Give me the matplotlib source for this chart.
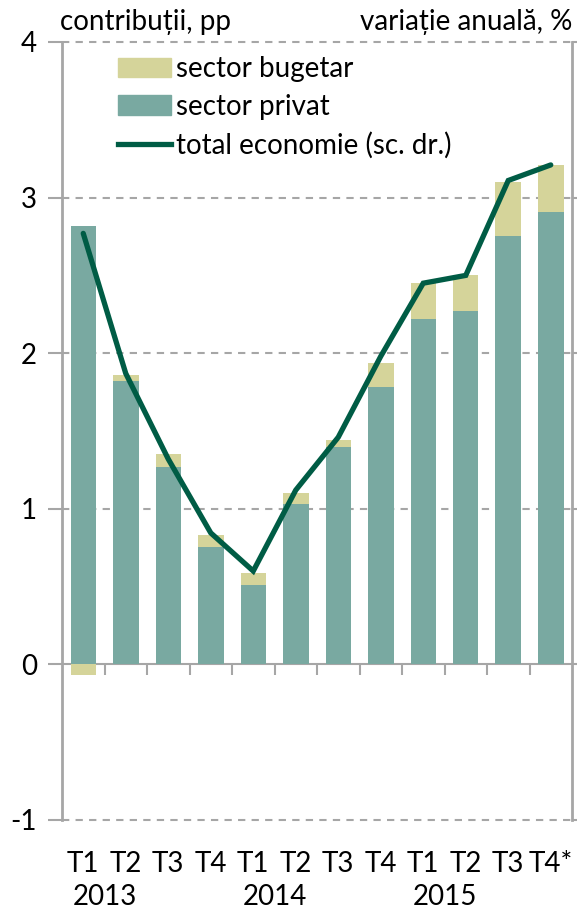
import matplotlib
matplotlib.use("Agg")
import matplotlib.pyplot as plt
from matplotlib.patches import Patch
from matplotlib.lines import Line2D
import matplotlib.transforms as mtransforms

plt.rcParams['font.family'] = ['Lato', 'DejaVu Sans']

quarters = ["T1", "T2", "T3", "T4", "T1", "T2", "T3", "T4", "T1", "T2", "T3", "T4*"]
years = ["2013", "2014", "2015"]
privat = [2.82, 1.82, 1.27, 0.755, 0.51, 1.03, 1.40, 1.78, 2.22, 2.27, 2.75, 2.91]
bugetar = [-0.07, 0.04, 0.08, 0.075, 0.08, 0.07, 0.04, 0.16, 0.23, 0.23, 0.35, 0.30]
total = [2.77, 1.87, 1.32, 0.845, 0.60, 1.12, 1.46, 1.98, 2.45, 2.50, 3.11, 3.21]

C_PRIV = "#79A9A1"
C_BUG = "#D5D49A"
C_LINE = "#005C45"
C_GRID = "#A6A6A6"
FS = 20

W, H = 577, 909
fig = plt.figure(figsize=(W / 100, H / 100), dpi=100)
ax = fig.add_axes([62 / W, (H - 820) / H, (572 - 62) / W, (820 - 42) / H])

x = list(range(len(quarters)))
bottoms = [p if b >= 0 else 0 for p, b in zip(privat, bugetar)]
ax.bar(x, privat, width=0.6, color=C_PRIV, zorder=2)
ax.bar(x, bugetar, width=0.6, bottom=bottoms, color=C_BUG, zorder=2)
ax.plot(x, total, color=C_LINE, lw=3.8, solid_capstyle='round', solid_joinstyle='miter', zorder=3)

ax.set_xlim(-0.5, len(quarters) - 0.5)
ax.set_ylim(-1, 4)
for yv in [-1, 1, 2, 3, 4]:
    ax.axhline(yv, color=C_GRID, lw=1.5, ls=(0, (3.5, 3)), zorder=1, clip_on=False)
ax.axhline(0, color=C_GRID, lw=1.5, zorder=1)
ax.vlines([i + 0.5 for i in x[:-1]], -0.065, 0, color=C_GRID, lw=1.5, zorder=1)

for s in ['top', 'bottom']:
    ax.spines[s].set_visible(False)
for s in ['left', 'right']:
    ax.spines[s].set_color(C_GRID)
    ax.spines[s].set_linewidth(2)

ax.set_yticks([-1, 0, 1, 2, 3, 4])
ax.set_yticklabels(["-1", "0", "1", "2", "3", "4"], fontsize=FS)
ax.tick_params(axis='y', which='both', direction='out', length=10, width=1.5, color=C_GRID, pad=8,
               right=True, labelright=False)
ax.set_xticks(x)
ax.set_xticklabels(quarters, fontsize=FS)
ax.tick_params(axis='x', length=0, pad=22)

trans = mtransforms.blended_transform_factory(ax.transData, fig.transFigure)
for i, yr in enumerate(years):
    ax.text(4 * i + 0.5, (H - 897) / H, yr, transform=trans, ha='center', va='center', fontsize=FS)

fig.text(60 / W, (H - 22) / H, "contribuții, pp", ha='left', va='center', fontsize=FS)
fig.text(572 / W, (H - 22) / H, "variație anuală, %", ha='right', va='center', fontsize=FS)

handles = [Patch(color=C_BUG), Patch(color=C_PRIV), Line2D([0], [0], color=C_LINE, lw=3.8)]
labels = ["sector bugetar", "sector privat", "total economie (sc. dr.)"]
ax.legend(handles, labels, loc='upper left', bbox_to_anchor=(0.088, 0.996), frameon=False,
          fontsize=FS, handlelength=1.9, handleheight=0.7, handletextpad=0.2, labelspacing=0.42,
          borderaxespad=0)

fig.savefig("out.png", dpi=100)
